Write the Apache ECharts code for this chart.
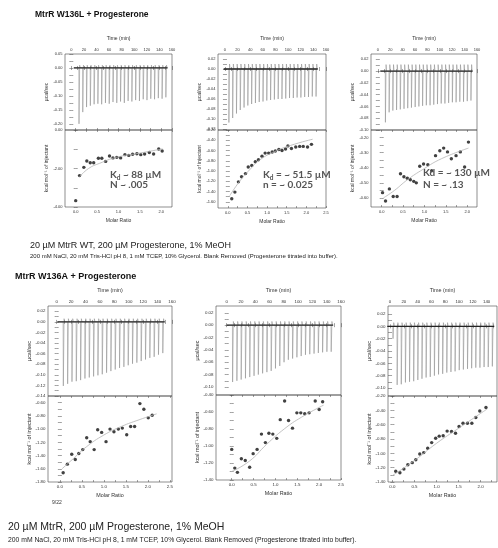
<!DOCTYPE html>
<html>
<head>
<meta charset="utf-8">
<title>MtrR ITC</title>
<script src="https://cdn.jsdelivr.net/npm/echarts@6/dist/echarts.min.js"></script>
<style>
  html, body { margin: 0; padding: 0; background: #fff; }
  #chart { width: 498px; height: 548px; }
</style>
</head>
<body>
<div id="chart"></div>
<script>
// ---------------- data ----------------
// tick labels
const timeTicks = [0, 20, 40, 60, 80, 100, 120, 140, 160];
const ratioTicks = [0, 0.5, 1.0, 1.5, 2.0, 2.5];
const rawTicksA1 = [0.05, 0, -0.05, -0.10, -0.15, -0.20];
const rawTicksA2 = [0.02, 0, -0.02, -0.04, -0.06, -0.08, -0.10, -0.12];
const rawTicksA3 = [0.02, 0, -0.02, -0.04, -0.06, -0.08, -0.10];
const rawTicksB1 = [0.02, 0, -0.02, -0.04, -0.06, -0.08, -0.10, -0.12, -0.14];
const rawTicksB2 = [0.02, 0, -0.02, -0.04, -0.06, -0.08, -0.10];
const rawTicksB3 = [0.02, 0, -0.02, -0.04, -0.06, -0.08, -0.10];
const heatTicksA1 = [0, -2, -4];
const heatTicksA2 = [-0.2, -0.4, -0.6, -0.8, -1.0, -1.2, -1.4, -1.6];
const heatTicksA3 = [-0.2, -0.3, -0.4, -0.5, -0.6];
const heatTicksB1 = [-0.6, -0.8, -1.0, -1.2, -1.4, -1.6, -1.8];
const heatTicksB2 = [-0.4, -0.6, -0.8, -1.0, -1.2, -1.4];
const heatTicksB3 = [-0.2, -0.4, -0.6, -0.8, -1.0, -1.2, -1.4];

// injections (min)
const injStep = 6;
const firstInj = [12, 6, 12, 9, 8, 4];
// small upward overshoot after each injection (ucal/sec)
const overshoot = [0.010, 0.010, 0.011, 0.006, 0.006, 0.006];

// raw thermogram peak heights (ucal/sec)
const peaksA1 = [-0.200, -0.158, -0.140, -0.135, -0.130, -0.128, -0.130, -0.125, -0.128, -0.122, -0.125, -0.120,
                 -0.125, -0.118, -0.120, -0.115, -0.118, -0.112, -0.115, -0.110, -0.112, -0.108, -0.110, -0.105];
const peaksA2 = [-0.107, -0.098, -0.089, -0.082, -0.077, -0.073, -0.070, -0.068, -0.066, -0.065, -0.063, -0.062,
                 -0.061, -0.060, -0.060, -0.059, -0.058, -0.058, -0.057, -0.057, -0.056, -0.056, -0.055, -0.055];
const peaksA3 = [-0.087, -0.070, -0.067, -0.066, -0.065, -0.064, -0.063, -0.062, -0.061, -0.060, -0.059, -0.058,
                 -0.058, -0.057, -0.056, -0.055, -0.055, -0.054, -0.053, -0.053, -0.052, -0.052, -0.051, -0.050];
const peaksB1 = [-0.121, -0.117, -0.113, -0.112, -0.110, -0.107, -0.105, -0.103, -0.101, -0.099, -0.096, -0.093,
                 -0.090, -0.087, -0.085, -0.082, -0.079, -0.077, -0.074, -0.071, -0.068, -0.066, -0.062, -0.059];
const peaksB2 = [-0.092, -0.090, -0.088, -0.086, -0.084, -0.082, -0.080, -0.078, -0.076, -0.074, -0.070, -0.066,
                 -0.060, -0.056, -0.054, -0.052, -0.050, -0.048, -0.047, -0.046, -0.045, -0.044, -0.043, -0.043];
const peaksB3 = [-0.020, -0.095, -0.094, -0.091, -0.090, -0.089, -0.087, -0.085, -0.083, -0.082, -0.080, -0.078,
                 -0.077, -0.075, -0.074, -0.073, -0.071, -0.070, -0.069, -0.068, -0.067, -0.067, -0.066, -0.066, -0.065];

// integrated heats: molar ratio vs kcal/mol of injectant
const ratioA1 = [0.00, 0.09, 0.19, 0.26, 0.34, 0.42, 0.53, 0.61, 0.70, 0.79, 0.87, 0.96, 1.05, 1.15, 1.24, 1.33,
                 1.43, 1.52, 1.61, 1.72, 1.82, 1.94, 2.02];
const heatA1 = [-3.67, -2.37, -1.94, -1.61, -1.70, -1.70, -1.47, -1.47, -1.63, -1.35, -1.45, -1.42, -1.45, -1.28,
                -1.32, -1.26, -1.23, -1.28, -1.25, -1.17, -1.25, -0.99, -1.09];
const fitRatioA1 = [0.09, 0.30, 0.56, 0.95, 1.50, 2.03];
const fitHeatA1 = [-2.43, -2.00, -1.73, -1.42, -1.20, -0.98];

const ratioA2 = [0.10, 0.18, 0.27, 0.35, 0.45, 0.52, 0.61, 0.70, 0.78, 0.87, 0.95, 1.04, 1.13, 1.21, 1.30, 1.38,
                 1.47, 1.53, 1.62, 1.73, 1.83, 1.92, 2.03, 2.13];
const heatA2 = [-1.54, -1.41, -1.21, -1.11, -1.05, -0.92, -0.89, -0.82, -0.78, -0.71, -0.65, -0.65, -0.63, -0.61,
                -0.58, -0.60, -0.57, -0.51, -0.56, -0.53, -0.52, -0.52, -0.53, -0.48];
const fitRatioA2 = [0.05, 0.30, 0.55, 0.82, 1.20, 1.60, 2.16];
const fitHeatA2 = [-1.48, -1.20, -0.98, -0.78, -0.62, -0.50, -0.38];

const ratioA3 = [0.02, 0.09, 0.18, 0.27, 0.36, 0.44, 0.52, 0.60, 0.67, 0.75, 0.81, 0.89, 0.98, 1.08, 1.17, 1.26,
                 1.36, 1.45, 1.54, 1.63, 1.74, 1.84, 1.94, 2.03];
const heatA3 = [-0.565, -0.62, -0.54, -0.59, -0.59, -0.44, -0.46, -0.47, -0.48, -0.49, -0.50, -0.39, -0.375, -0.38,
                -0.42, -0.32, -0.287, -0.27, -0.295, -0.34, -0.32, -0.295, -0.395, -0.23];
const fitRatioA3 = [0.04, 0.30, 0.60, 0.97, 1.40, 2.03];
const fitHeatA3 = [-0.60, -0.55, -0.48, -0.41, -0.34, -0.27];

const ratioB1 = [0.075, 0.17, 0.27, 0.35, 0.43, 0.52, 0.61, 0.69, 0.78, 0.86, 0.95, 1.05, 1.14, 1.23, 1.33, 1.42,
                 1.52, 1.61, 1.70, 1.82, 1.91, 2.01, 2.10];
const heatB1 = [-1.66, -1.53, -1.38, -1.46, -1.37, -1.31, -1.13, -1.19, -1.31, -1.01, -1.05, -1.19, -1.00, -1.04,
                -1.00, -0.985, -1.085, -0.96, -0.96, -0.615, -0.70, -0.83, -0.79];
const fitRatioB1 = [0.05, 0.30, 0.60, 1.00, 1.40, 1.80, 2.20];
const fitHeatB1 = [-1.60, -1.45, -1.27, -1.09, -0.96, -0.86, -0.77];

const ratioB2 = [0.00, 0.07, 0.13, 0.22, 0.31, 0.41, 0.49, 0.58, 0.68, 0.77, 0.85, 0.94, 1.03, 1.11, 1.21, 1.30,
                 1.39, 1.49, 1.58, 1.67, 1.77, 1.91, 2.00, 2.08];
const heatB2 = [-1.04, -1.26, -1.31, -1.15, -1.17, -1.25, -1.09, -1.04, -0.86, -0.96, -0.85, -0.86, -0.91, -0.69,
                -0.47, -0.70, -0.79, -0.61, -0.61, -0.62, -0.61, -0.47, -0.57, -0.48];
const fitRatioB2 = [0.00, 0.40, 0.80, 1.20, 1.60, 2.10];
const fitHeatB2 = [-1.30, -1.18, -0.98, -0.80, -0.66, -0.52];

const ratioB3 = [0.075, 0.17, 0.26, 0.35, 0.45, 0.53, 0.62, 0.71, 0.80, 0.89, 0.98, 1.06, 1.15, 1.24, 1.34, 1.43,
                 1.51, 1.60, 1.70, 1.80, 1.89, 1.98, 2.12];
const heatB3 = [-1.25, -1.27, -1.22, -1.16, -1.13, -1.09, -1.01, -0.99, -0.93, -0.85, -0.79, -0.76, -0.755, -0.69,
                -0.695, -0.72, -0.625, -0.58, -0.58, -0.58, -0.50, -0.41, -0.36];
const fitRatioB3 = [0.00, 0.50, 1.00, 1.50, 2.15];
const fitHeatB3 = [-1.31, -1.10, -0.86, -0.65, -0.38];

// ---------------- layout ----------------
// [left, top, width, height of raw plot, height of heat plot]
const boxes = [
    [65, 54, 107, 76, 77],
    [218, 54, 108, 76, 78],
    [371, 54, 106, 76, 77],
    [48, 306, 124, 90, 86],
    [216, 306, 125, 89, 85],
    [388, 306, 109, 90, 86]
];

const panels = [
    {peaks: peaksA1, time: [-10, 160], raw: [-0.222, 0.05], rawTicks: rawTicksA1,
     ratio: ratioA1, heat: heatA1, fitR: fitRatioA1, fitH: fitHeatA1, ratioRange: [-0.25, 2.25], heatRange: [-4, 0], heatTicks: heatTicksA1},
    {peaks: peaksA2, time: [-11, 160], raw: [-0.122, 0.03], rawTicks: rawTicksA2,
     ratio: ratioA2, heat: heatA2, fitR: fitRatioA2, fitH: fitHeatA2, ratioRange: [-0.25, 2.5], heatRange: [-1.72, -0.2], heatTicks: heatTicksA2},
    {peaks: peaksA3, time: [-11, 160], raw: [-0.10, 0.029], rawTicks: rawTicksA3,
     ratio: ratioA3, heat: heatA3, fitR: fitRatioA3, fitH: fitHeatA3, ratioRange: [-0.25, 2.23], heatRange: [-0.66, -0.15], heatTicks: heatTicksA3},
    {peaks: peaksB1, time: [-12, 160], raw: [-0.14, 0.03], rawTicks: rawTicksB1,
     ratio: ratioB1, heat: heatB1, fitR: fitRatioB1, fitH: fitHeatB1, ratioRange: [-0.27, 2.55], heatRange: [-1.8, -0.5], heatTicks: heatTicksB1},
    {peaks: peaksB2, time: [-15, 160], raw: [-0.113, 0.031], rawTicks: rawTicksB2,
     ratio: ratioB2, heat: heatB2, fitR: fitRatioB2, fitH: fitHeatB2, ratioRange: [-0.36, 2.5], heatRange: [-1.4, -0.4], heatTicks: heatTicksB2},
    {peaks: peaksB3, time: [-3, 155], raw: [-0.113, 0.033], rawTicks: rawTicksB3,
     ratio: ratioB3, heat: heatB3, fitR: fitRatioB3, fitH: fitHeatB3, ratioRange: [-0.1, 2.37], heatRange: [-1.4, -0.2], heatTicks: heatTicksB3}
];

const FONT = 'Liberation Sans';
const grids = [], xAxes = [], yAxes = [], series = [];

function withMinor(ticks) {
    // ticks plus the midpoints between them (Origin style minor ticks)
    const out = ticks.slice();
    for (let i = 0; i < ticks.length - 1; i++) out.push((ticks[i] + ticks[i + 1]) / 2);
    return out;
}

function valueAxis(gridIndex, range, ticks, digits, position, labels, name, nameGap, fs) {
    const inRange = v => v >= range[0] - 1e-9 && v <= range[1] + 1e-9;
    return {
        type: 'value', gridIndex: gridIndex, position: position,
        min: range[0], max: range[1],
        name: labels ? name : '', nameLocation: 'middle', nameGap: nameGap,
        nameTextStyle: {fontFamily: FONT, fontSize: fs + 1, color: '#333'},
        axisLine: {show: false},
        splitLine: {show: false},
        axisTick: {show: true, inside: true, length: 2,
            customValues: withMinor(ticks).filter(inRange),
            lineStyle: {color: '#444', width: 0.5}},
        axisLabel: {show: labels, margin: 2.5, customValues: ticks.filter(inRange),
            fontFamily: FONT, fontSize: fs, color: '#333',
            formatter: v => v.toFixed(digits)}
    };
}

panels.forEach((p, i) => {
    const b = boxes[i];
    const fs = i < 3 ? 4 : 4.4;
    const gTop = grids.length;
    grids.push({left: b[0], top: b[1], width: b[2], height: b[3], show: true,
        borderColor: '#444', borderWidth: 0.6, backgroundColor: 'transparent'});
    grids.push({left: b[0], top: b[1] + b[3], width: b[2], height: b[4], show: true,
        borderColor: '#444', borderWidth: 0.6, backgroundColor: 'transparent'});
    const gBot = gTop + 1;

    // raw plot axes
    const xTop = xAxes.length;
    xAxes.push(valueAxis(gTop, p.time, timeTicks, 0, 'top', true, 'Time (min)', 13, fs));
    xAxes.push(valueAxis(gTop, p.time, timeTicks, 0, 'bottom', false, '', 0, fs));
    const yTop = yAxes.length;
    yAxes.push(valueAxis(gTop, p.raw, p.rawTicks, 2, 'left', true, 'µcal/sec', 16, fs));
    yAxes.push(valueAxis(gTop, p.raw, p.rawTicks, 2, 'right', false, '', 0, fs));

    // heat plot axes
    const xBot = xAxes.length;
    xAxes.push(valueAxis(gBot, p.ratioRange, ratioTicks, 1, 'bottom', true, 'Molar Ratio', 11, fs));
    xAxes.push(valueAxis(gBot, p.ratioRange, ratioTicks, 1, 'top', false, '', 0, fs));
    const yBot = yAxes.length;
    yAxes.push(valueAxis(gBot, p.heatRange, p.heatTicks, 2, 'left', true, 'kcal mol⁻¹ of injectant', 16, fs));
    yAxes.push(valueAxis(gBot, p.heatRange, p.heatTicks, 2, 'right', false, '', 0, fs));

    // thermogram trace built from the read peak heights
    const trace = [];
    const t0 = firstInj[i];
    trace.push([t0 - 8, 0]);
    p.peaks.forEach((pk, k) => {
        const t = t0 + k * injStep;
        trace.push([t, 0], [t + 0.25, pk], [t + 1.3, overshoot[i]], [t + 2.2, 0]);
    });
    const tEnd = t0 + (p.peaks.length - 1) * injStep + 3;
    trace.push([tEnd, 0]);

    series.push({type: 'line', xAxisIndex: xTop, yAxisIndex: yTop, data: trace,
        showSymbol: false, silent: true, lineStyle: {color: '#8c8c8c', width: 0.55}});
    series.push({type: 'line', xAxisIndex: xTop, yAxisIndex: yTop, data: [[t0 - 8, 0], [tEnd, 0]],
        showSymbol: false, silent: true, lineStyle: {color: '#222', width: 1.3}});

    series.push({type: 'line', xAxisIndex: xBot, yAxisIndex: yBot, smooth: true,
        data: p.fitR.map((r, k) => [r, p.fitH[k]]),
        showSymbol: false, silent: true, lineStyle: {color: '#b4b4b4', width: 0.8}});
    series.push({type: 'scatter', xAxisIndex: xBot, yAxisIndex: yBot,
        data: p.ratio.map((r, k) => [r, p.heat[k]]),
        symbol: 'circle', symbolSize: 3.4, itemStyle: {color: '#111'}});
});

const noteStyle = {fontFamily: 'Lato', fontSize: 10, color: '#555',
    rich: {sub: {fontFamily: 'Lato', fontSize: 6.5, color: '#555', verticalAlign: 'bottom', padding: [6, 0, 0, 0]}}};

const texts = [
    {text: 'MtrR W136L + Progesterone', left: 35, top: 10,
     textStyle: {fontFamily: FONT, fontSize: 8.5, fontWeight: 'bold', color: '#111'}},
    {text: 'K{sub|d} ~ 88 µM', left: 110, top: 168, textStyle: noteStyle},
    {text: 'N ~ .005', left: 110, top: 180, textStyle: noteStyle},
    {text: 'K{sub|d} = ~ 51.5 µM', left: 263, top: 168, textStyle: noteStyle},
    {text: 'n = ~ 0.025', left: 263, top: 180, textStyle: noteStyle},
    {text: 'Kd = ~ 130 µM', left: 423, top: 168, textStyle: noteStyle},
    {text: 'N = ~ .13', left: 423, top: 180, textStyle: noteStyle},
    {text: '20 µM MtrR WT, 200 µM Progesterone, 1% MeOH', left: 30, top: 241,
     textStyle: {fontFamily: FONT, fontSize: 9, fontWeight: 'normal', color: '#222'}},
    {text: '200 mM NaCl, 20 mM Tris-HCl pH 8, 1 mM TCEP, 10% Glycerol. Blank Removed (Progesterone titrated into buffer).',
     left: 30, top: 253.5, textStyle: {fontFamily: FONT, fontSize: 6, fontWeight: 'normal', color: '#222'}},
    {text: 'MtrR W136A + Progesterone', left: 15, top: 272,
     textStyle: {fontFamily: FONT, fontSize: 9, fontWeight: 'bold', color: '#111'}},
    {text: '9/22', left: 52, top: 500, textStyle: {fontFamily: FONT, fontSize: 5, fontWeight: 'normal', color: '#333'}},
    {text: '20 µM MtrR, 200 µM Progesterone, 1% MeOH', left: 8, top: 522,
     textStyle: {fontFamily: FONT, fontSize: 10.5, fontWeight: 'normal', color: '#222'}},
    {text: '200 mM NaCl, 20 mM Tris-HCl pH 8, 1 mM TCEP, 10% Glycerol. Blank Removed (Progesterone titrated into buffer).',
     left: 8, top: 537, textStyle: {fontFamily: FONT, fontSize: 6.8, fontWeight: 'normal', color: '#222'}}
];

const chart = echarts.init(document.getElementById('chart'));
chart.setOption({
    animation: false,
    backgroundColor: '#fff',
    title: texts.map(t => Object.assign({padding: 0}, t)),
    grid: grids,
    xAxis: xAxes,
    yAxis: yAxes,
    series: series
});
</script>
</body>
</html>
